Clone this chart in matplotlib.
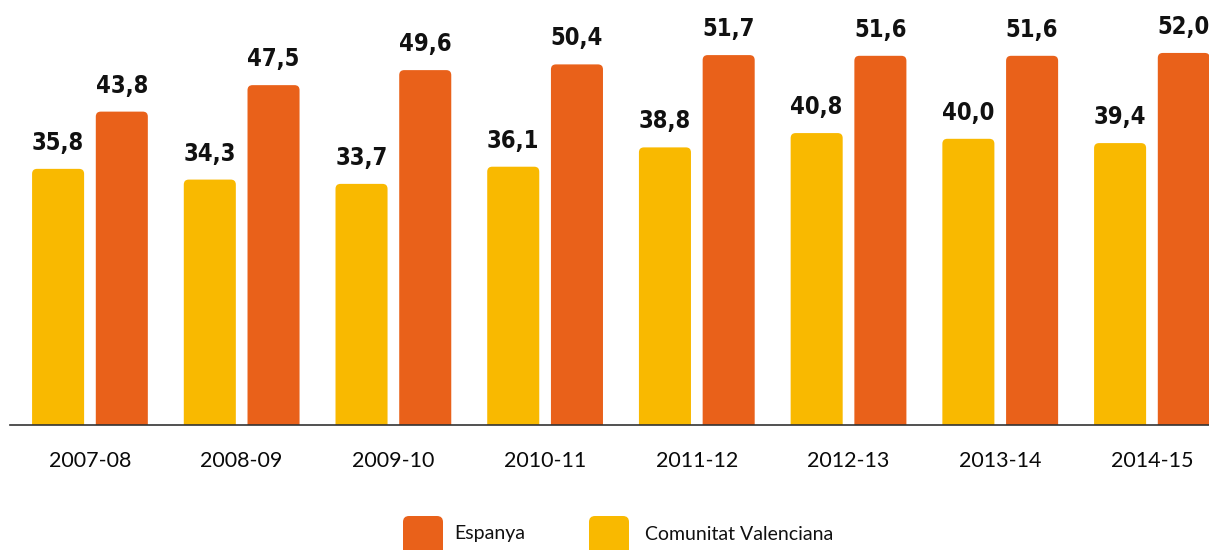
import matplotlib
matplotlib.use("Agg")
import matplotlib.pyplot as plt
from matplotlib.patches import FancyBboxPatch
import numpy as np

cursos = ["2007-08", "2008-09", "2009-10", "2010-11", "2011-12", "2012-13", "2013-14", "2014-15"]
valenciana = [35.8, 34.3, 33.7, 36.1, 38.8, 40.8, 40.0, 39.4]
espanya = [43.8, 47.5, 49.6, 50.4, 51.7, 51.6, 51.6, 52.0]

groc = "#F9B900"
taronja = "#E9611A"

fig = plt.figure(figsize=(12.09, 5.5), dpi=100)
ax = fig.add_axes([10 / 1209, 125 / 550, 1 - 10 / 1209, 425 / 550])

x = np.arange(len(cursos))
w = 0.343
off = 0.21
b1 = ax.bar(x - off, valenciana, w, color=groc)
b2 = ax.bar(x + off, espanya, w, color=taronja)

ax.set_xlim(-0.527, 7.376)
ax.set_ylim(0, 59.4)

# cantons arrodonits a dalt
asp = (1 / 7.16) / (1 / 151.7)
for barres in (b1, b2):
    for r in barres.patches:
        r.set_visible(False)
        p = FancyBboxPatch((r.get_x(), -3), r.get_width(), r.get_height() + 3,
                           boxstyle="round,pad=0,rounding_size=0.033",
                           mutation_aspect=asp, facecolor=r.get_facecolor(),
                           edgecolor="none")
        ax.add_patch(p)
        ax.annotate(f"{r.get_height():.1f}".replace(".", ","),
                    (r.get_x() + r.get_width() / 2, r.get_height()),
                    xytext=(0, 19), textcoords="offset pixels",
                    ha="center", va="baseline", fontsize=17, fontweight="bold",
                    fontstretch="condensed", family="DejaVu Sans", color="#111111")

for s in ["top", "right", "left"]:
    ax.spines[s].set_visible(False)
ax.spines["bottom"].set_color("#333333")
ax.spines["bottom"].set_linewidth(1.2)
ax.set_yticks([])
ax.set_xticks(x)
ax.set_xticklabels(cursos, fontsize=15.5, family="Lato", color="#0a0a0a")
ax.tick_params(axis="x", length=0, pad=19)

# llegenda
for x0, xt, col, nom in [(403, 454, taronja, "Espanya"), (589, 645, groc, "Comunitat Valenciana")]:
    fig.patches.append(FancyBboxPatch((x0 / 1209, (550 - 556) / 550), 40 / 1209, 40 / 550,
                                      boxstyle="round,pad=0,rounding_size=0.005",
                                      mutation_aspect=1209 / 550,
                                      transform=fig.transFigure, facecolor=col,
                                      edgecolor="none"))
    fig.text(xt / 1209, (550 - 534) / 550, nom, fontsize=14, family="Lato",
             va="center", ha="left", color="#111111")

fig.savefig("out.png", dpi=100)
